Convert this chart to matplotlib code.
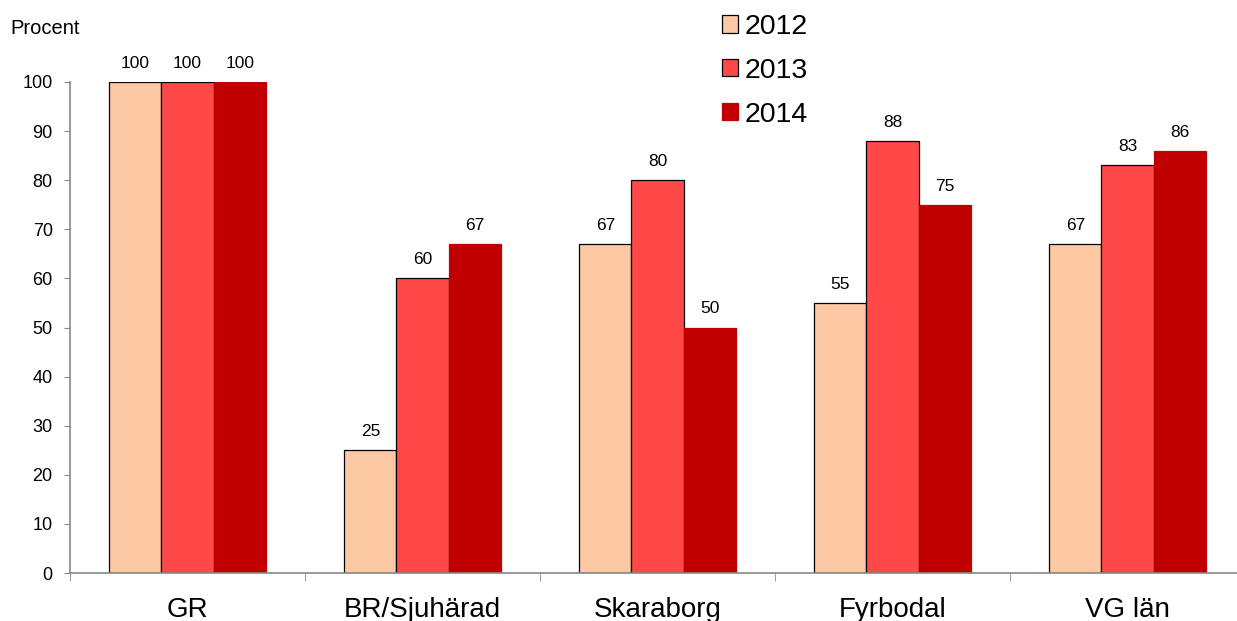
import numpy as np
import matplotlib.pyplot as plt
from matplotlib.patches import Patch

plt.rcParams['font.family'] = ['Liberation Sans', 'DejaVu Sans']

# Andel i procent per region och år
regions = ["GR", "BR/Sjuhärad", "Skaraborg", "Fyrbodal", "VG län"]
years = ["2012", "2013", "2014"]
v2012 = [100, 25, 67, 55, 67]
v2013 = [100, 60, 80, 88, 83]
v2014 = [100, 67, 50, 75, 86]

colors = ["#FDC8A4", "#FF4949", "#C00000"]
edges = ["black", "black", "#C00000"]

fig = plt.figure(figsize=(12.37, 6.21), dpi=100)
ax = fig.add_axes([70 / 1237, 48 / 621, 1175 / 1237, 491 / 621])

x = np.arange(len(regions))
w = 0.222
for i, vals in enumerate([v2012, v2013, v2014]):
    bars = ax.bar(x + (i - 1) * w, vals, width=w, color=colors[i],
                  edgecolor=edges[i], linewidth=0.9)
    ax.bar_label(bars, labels=[str(v) for v in vals], padding=8, fontsize=12.5)

ax.set_xlim(-0.5, 4.5)
ax.set_ylim(0, 100)
ax.set_yticks(range(0, 101, 10))
ax.tick_params(axis='y', labelsize=13, length=4.5, color='#888888', pad=8)
ax.set_xticks(x)
ax.set_xticklabels(regions)
ax.set_xticks(np.arange(-0.5, 4.6, 1), minor=True)
ax.tick_params(axis='x', which='major', length=0, pad=17, labelsize=20)
ax.tick_params(axis='x', which='minor', length=6, color='#888888')

for s in ['top', 'right']:
    ax.spines[s].set_visible(False)
for s in ['left', 'bottom']:
    ax.spines[s].set_color('#888888')
    ax.spines[s].set_linewidth(1.2)

fig.text(10 / 1237, 1 - 28 / 621, "Procent", fontsize=14.5, va='center', ha='left')

handles = [Patch(facecolor=colors[i], edgecolor=edges[i], linewidth=0.9) for i in range(3)]
fig.legend(handles, years, loc='upper left', bbox_to_anchor=(722 / 1237, 1 - 14 / 621),
           frameon=False, fontsize=20.5, handlelength=0.55, handleheight=0.55,
           handletextpad=0.25, labelspacing=0.63, borderpad=0, borderaxespad=0)

fig.savefig("out.png", dpi=100)
